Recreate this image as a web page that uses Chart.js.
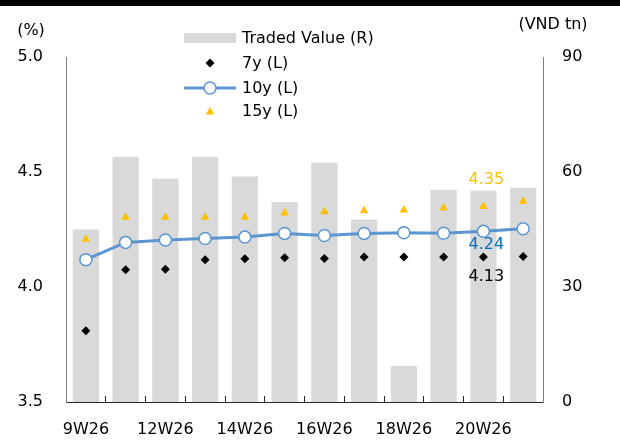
<!DOCTYPE html>
<html>
<head>
<meta charset="utf-8">
<script src="https://cdn.jsdelivr.net/npm/chart.js@4"></script>
<style>
html,body{margin:0;padding:0;background:#fff;}
#wrap{position:relative;width:620px;height:444px;}
</style>
</head>
<body>
<div id="wrap"><canvas id="c" width="620" height="444"></canvas></div>
<script>
// ---- data ----
const categories = ['9W26','11W26','12W26','13W26','14W26','15W26','16W26','17W26','18W26','19W26','20W26','21W26'];
const tradedValue = [45.0, 64.0, 58.3, 64.0, 58.8, 52.2, 62.4, 47.6, 9.4, 55.4, 55.1, 55.9];
const y7 = [3.81, 4.075, 4.077, 4.119, 4.123, 4.127, 4.124, 4.13, 4.13, 4.13, 4.13, 4.133];
const y10 = [4.119, 4.194, 4.204, 4.211, 4.217, 4.233, 4.224, 4.233, 4.236, 4.234, 4.242, 4.253];
const y15 = [4.208, 4.303, 4.303, 4.303, 4.303, 4.322, 4.327, 4.332, 4.335, 4.344, 4.35, 4.373];
const leftTicks = [3.5, 4.0, 4.5, 5.0];
const rightTicks = [0, 30, 60, 90];
const labelIndex = 10;

const FONT = 'DejaVu Sans';
const GREY = '#D9D9D9';
const BLUE = '#5B96D3';
const GOLD = '#FFC000';

function drawDiamond(ctx, x, y, r, color){
  ctx.beginPath();
  ctx.moveTo(x - r, y); ctx.lineTo(x, y - r); ctx.lineTo(x + r, y); ctx.lineTo(x, y + r);
  ctx.closePath(); ctx.fillStyle = color; ctx.fill();
}
function drawTriangle(ctx, x, y, r, color){
  ctx.beginPath();
  for (let k = 0; k < 3; k++) {
    const a = k * 2 * Math.PI / 3;
    const px = x + Math.sin(a) * r, py = y - Math.cos(a) * r;
    if (k === 0) ctx.moveTo(px, py); else ctx.lineTo(px, py);
  }
  ctx.closePath(); ctx.fillStyle = color; ctx.fill();
}

const decorPlugin = {
  id: 'decor',
  beforeDraw(chart){
    const ctx = chart.ctx;
    ctx.save();
    ctx.fillStyle = '#fff';
    ctx.fillRect(0, 0, chart.width, chart.height);
    ctx.fillStyle = '#000';
    ctx.fillRect(0, 0, chart.width, 6);
    ctx.restore();
  },
  afterDraw(chart){
    const ctx = chart.ctx;
    ctx.save();
    ctx.font = '16px "' + FONT + '"';
    ctx.textBaseline = 'middle';
    ctx.fillStyle = '#000';
    // axis titles
    ctx.textAlign = 'center';
    ctx.fillText('(%)', 31, 31);
    ctx.fillText('(VND tn)', 553, 25);
    // legend
    const lx = 184, tx = 242, mx = 210;
    ctx.textAlign = 'left';
    const ds = chart.data.datasets;
    // bar
    ctx.fillStyle = GREY; ctx.fillRect(lx, 33, 52, 10);
    ctx.fillStyle = '#000'; ctx.fillText(ds[0].label, tx, 39);
    // 7y
    drawDiamond(ctx, mx, 63, 4.5, '#000');
    ctx.fillStyle = '#000'; ctx.fillText(ds[1].label, tx, 64);
    // 10y
    ctx.strokeStyle = BLUE; ctx.lineWidth = 3;
    ctx.beginPath(); ctx.moveTo(lx, 88); ctx.lineTo(lx + 52, 88); ctx.stroke();
    ctx.beginPath(); ctx.arc(mx, 88, 6, 0, Math.PI * 2);
    ctx.fillStyle = '#fff'; ctx.fill(); ctx.lineWidth = 1.5; ctx.stroke();
    ctx.fillStyle = '#000'; ctx.fillText(ds[2].label, tx, 89);
    // 15y
    drawTriangle(ctx, mx, 112, 5, GOLD);
    ctx.fillStyle = '#000'; ctx.fillText(ds[3].label, tx, 112);

    // data labels at the 20W26 point
    ctx.textAlign = 'center';
    const p15 = chart.getDatasetMeta(3).data[labelIndex];
    const p10 = chart.getDatasetMeta(2).data[labelIndex];
    const p7 = chart.getDatasetMeta(1).data[labelIndex];
    ctx.fillStyle = GOLD; ctx.fillText(y15[labelIndex].toFixed(2), p15.x + 3, p15.y - 27);
    ctx.fillStyle = '#0070C0'; ctx.fillText(y10[labelIndex].toFixed(2), p10.x + 3, p10.y + 14);
    ctx.fillStyle = '#000'; ctx.fillText(y7[labelIndex].toFixed(2), p7.x + 3, p7.y + 20);
    ctx.restore();
  }
};

new Chart(document.getElementById('c'), {
  data: {
    labels: categories,
    datasets: [
      { type: 'bar', label: 'Traded Value (R)', data: tradedValue, yAxisID: 'yR',
        backgroundColor: GREY, borderWidth: 0, barPercentage: 0.66, categoryPercentage: 1, order: 10 },
      { type: 'line', label: '7y (L)', data: y7, yAxisID: 'yL', showLine: false,
        pointStyle: 'rectRot', pointRadius: 4.5, pointBackgroundColor: '#000', pointBorderColor: '#000', pointBorderWidth: 0, order: 3 },
      { type: 'line', label: '10y (L)', data: y10, yAxisID: 'yL', borderColor: BLUE, borderWidth: 3,
        pointStyle: 'circle', pointRadius: 6, pointBackgroundColor: '#fff', pointBorderColor: BLUE, pointBorderWidth: 1.5, tension: 0, order: 1 },
      { type: 'line', label: '15y (L)', data: y15, yAxisID: 'yL', showLine: false,
        pointStyle: 'triangle', pointRadius: 5, pointBackgroundColor: GOLD, pointBorderColor: GOLD, pointBorderWidth: 0, order: 2 }
    ]
  },
  options: {
    responsive: false,
    animation: false,
    devicePixelRatio: 1,
    layout: { padding: { top: 57, left: 0, right: 0, bottom: 0 } },
    plugins: { legend: { display: false }, tooltip: { enabled: false }, title: { display: false } },
    scales: {
      x: {
        type: 'category', offset: true,
        grid: { display: true, offset: true, drawOnChartArea: false, drawTicks: true, tickLength: -6, color: '#262626', lineWidth: 1 },
        border: { display: true, color: '#262626', width: 1 },
        ticks: { autoSkip: false, maxRotation: 0, minRotation: 0, padding: 24, color: '#000',
          font: { family: FONT, size: 16 },
          callback: function(v, i){ return i % 2 === 0 ? categories[i] : ''; } },
        afterFit(s){ s.height = 42; }
      },
      yL: {
        type: 'linear', position: 'left', min: leftTicks[0], max: leftTicks[leftTicks.length - 1],
        afterBuildTicks(s){ s.ticks = leftTicks.map(v => ({ value: v })); },
        grid: { display: false, drawTicks: false },
        border: { display: true, color: '#7F7F7F', width: 1 },
        ticks: { padding: 23, color: '#000', font: { family: FONT, size: 16 }, callback: v => Number(v).toFixed(1) },
        afterFit(s){ s.width = 66; }
      },
      yR: {
        type: 'linear', position: 'right', min: rightTicks[0], max: rightTicks[rightTicks.length - 1],
        afterBuildTicks(s){ s.ticks = rightTicks.map(v => ({ value: v })); },
        grid: { display: false, drawTicks: false },
        border: { display: true, color: '#7F7F7F', width: 1 },
        ticks: { padding: 19, color: '#000', font: { family: FONT, size: 16 }, callback: v => String(v) },
        afterFit(s){ s.width = 77; }
      }
    }
  },
  plugins: [decorPlugin]
});
</script>
</body>
</html>
